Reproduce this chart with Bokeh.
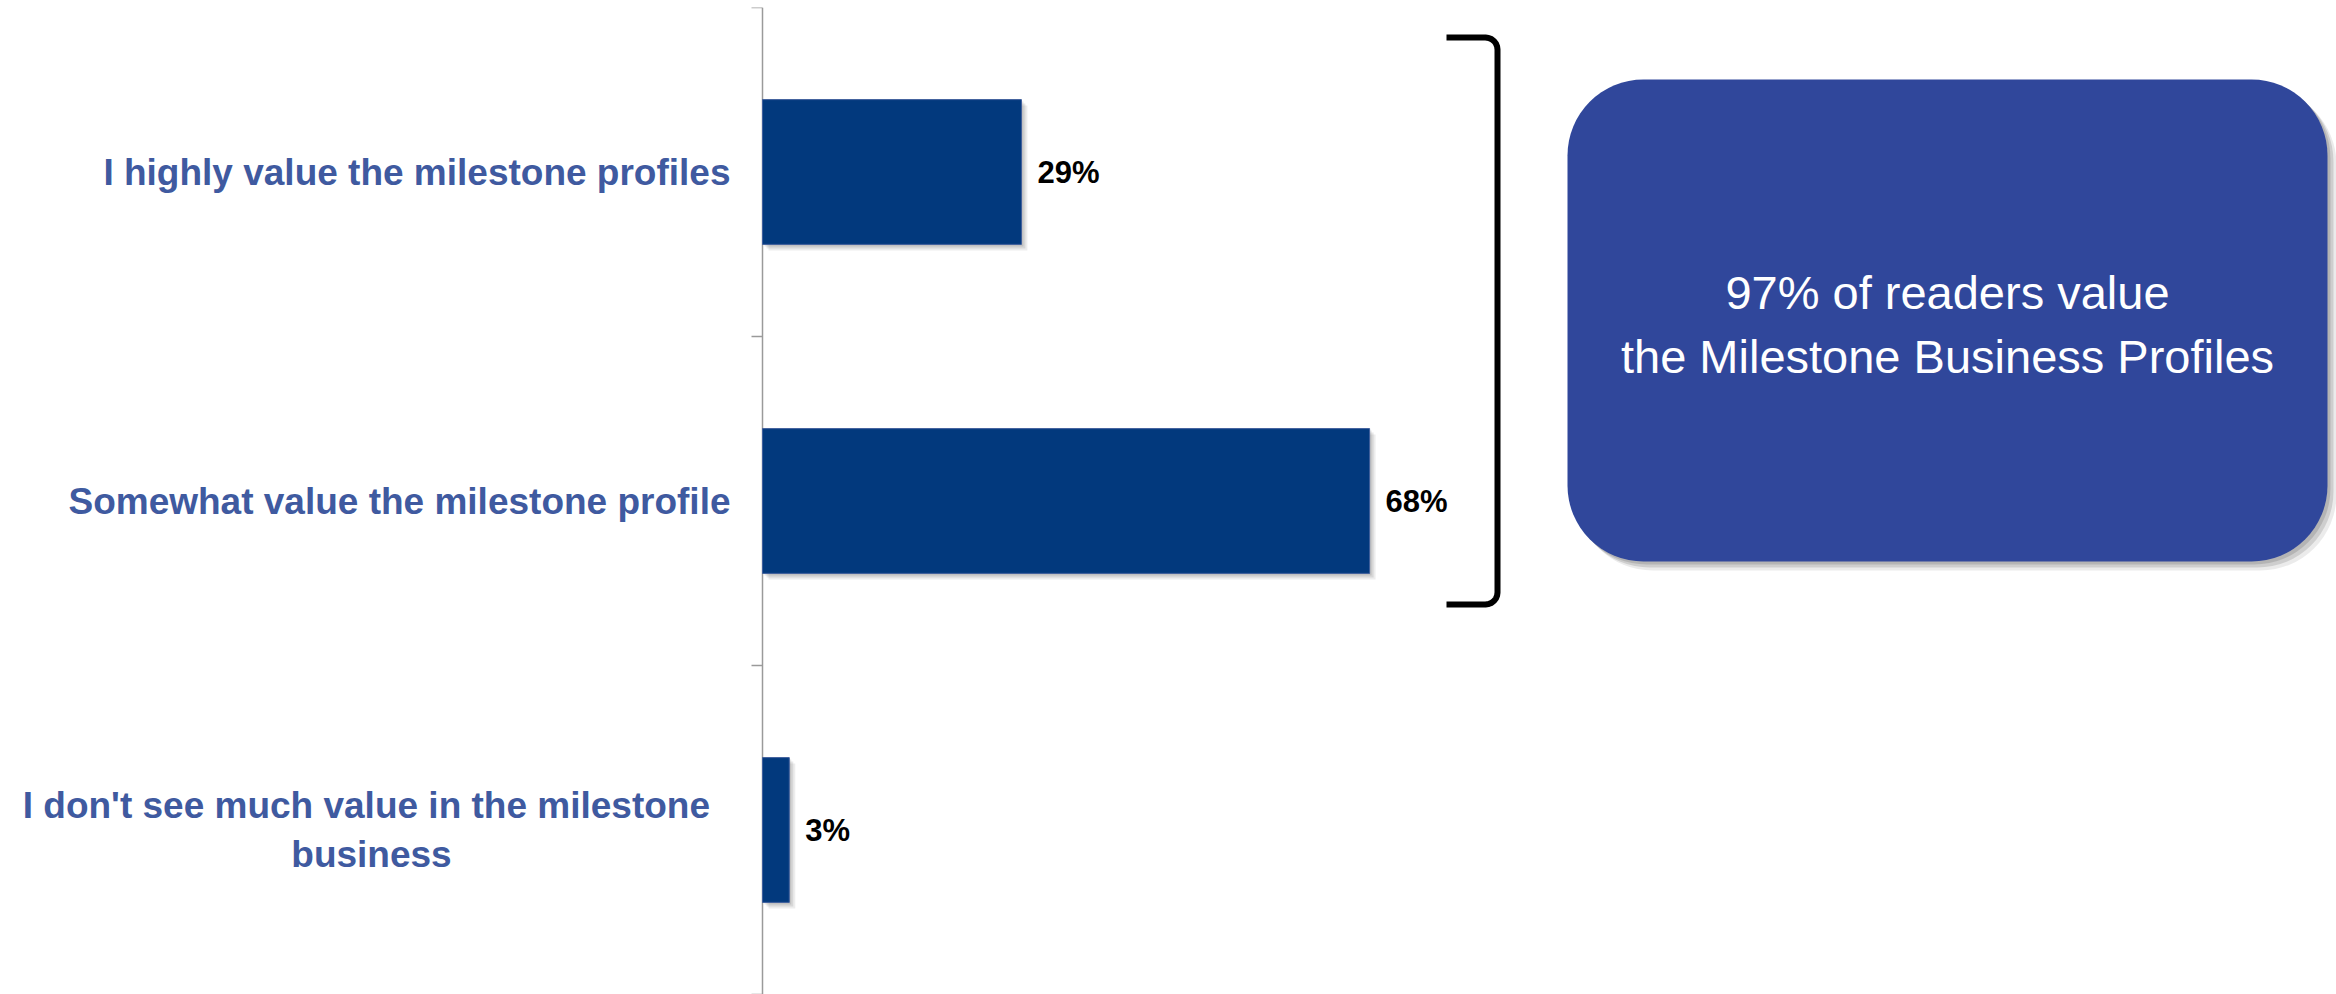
import math
from bokeh.plotting import figure
from bokeh.models import (Range1d, ColumnDataSource, BoxAnnotation, Label)
from bokeh.embed import file_html
from bokeh.resources import INLINE
from bokeh.core.properties import value, field

# ---------------- data ----------------
categories = [
    "I highly value the milestone profiles",
    "Somewhat value the milestone profile",
    "I don't  see much value in the milestone\nbusiness",
]
values = [29, 68, 3]
value_labels = ["29%", "68%", "3%"]
callout_text = "97% of readers value\nthe Milestone Business Profiles"

# ---------------- layout constants (pixels) ----------------
W, H = 2336, 994
LEFT = 762            # pixel position of the value axis
TOP = 7
X_MAX = 176.3
n = len(categories)
PX = (W - LEFT) / X_MAX          # pixels per x unit
PY = (H - TOP) / n               # pixels per y unit


def dx(px):
    return (px - LEFT) / PX


def dy(py):
    return n - (py - TOP) / PY


ypos = [n - 0.5 - i for i in range(n)]

p = figure(width=W, height=H, x_range=Range1d(-LEFT / PX, X_MAX), y_range=Range1d(0, n),
           output_backend="svg", toolbar_location=None,
           x_axis_location=None, y_axis_location=None,
           min_border_left=0, min_border_right=0,
           min_border_top=TOP, min_border_bottom=0)
p.outline_line_color = None
p.grid.visible = False
p.background_fill_color = "white"
p.border_fill_color = "white"

# category axis line with ticks at category boundaries
AX_COL = "#9A9A9A"
bounds = list(range(n + 1))
p.segment(x0=[0], y0=[0], x1=[0], y1=[n], line_color=AX_COL, line_width=1.5)
p.segment(x0=[-11 / PX] * len(bounds), y0=bounds, x1=[0] * len(bounds), y1=bounds,
          line_color=AX_COL, line_width=1.5)

BAR_H = 0.44
# soft shadows
for d, a in [(2, 0.10), (4, 0.09), (6, 0.07)]:
    p.hbar(y=[y - d / PY for y in ypos], left=d / PX,
           right=[v + d / PX for v in values], height=BAR_H,
           fill_color="black", fill_alpha=a, line_color=None)

p.hbar(y=ypos, left=0, right=values, height=BAR_H,
       fill_color="#02397D", line_color="#3E5E9C", line_width=1)

# category labels
multi = ["\n" in c for c in categories]
cat_src = ColumnDataSource(dict(
    x=[0] * n, y=ypos, text=categories,
    align=["center" if m else "right" for m in multi],
    xoff=[-391 if m else -32 for m in multi],
))
p.text(x="x", y="y", text="text", source=cat_src,
       x_offset=field("xoff"), text_align=field("align"),
       text_baseline="middle",
       text_font=value("Liberation Sans"), text_font_style="bold",
       text_font_size="37px", text_color="#3F5AA0",
       text_line_height=1.2)

# value labels
val_src = ColumnDataSource(dict(x=values, y=ypos, text=value_labels))
p.text(x="x", y="y", text="text", source=val_src,
       x_offset=16, text_align="left", text_baseline="middle",
       text_font=value("Liberation Sans"), text_font_style="bold",
       text_font_size="31px", text_color="black")

# bracket grouping first two categories
bx_l, bx_r, by_t, by_b, r = 1446, 1497, 37, 604, 12
pts = [(bx_l, by_t), (bx_r - r, by_t)]
for k in range(1, 7):
    t = k / 6 * math.pi / 2
    pts.append((bx_r - r + r * math.sin(t), by_t + r - r * math.cos(t)))
pts.append((bx_r, by_b - r))
for k in range(1, 7):
    t = k / 6 * math.pi / 2
    pts.append((bx_r - r + r * math.cos(t), by_b - r + r * math.sin(t)))
pts.append((bx_l, by_b))
p.line([dx(a) for a, b in pts], [dy(b) for a, b in pts],
       line_color="black", line_width=6, line_join="round", line_cap="butt")

# callout box with shadow
bl, br, bt, bb = 1567, 2327, 79, 561
for off, a in [(3, 0.12), (6, 0.12), (9, 0.08)]:
    p.add_layout(BoxAnnotation(left=dx(bl + off), right=dx(br + off),
                               top=dy(bt + off), bottom=dy(bb + off),
                               fill_color="black", fill_alpha=a, line_color=None,
                               border_radius=76))
p.add_layout(BoxAnnotation(left=dx(bl), right=dx(br), top=dy(bt), bottom=dy(bb),
                           fill_color="#30479B", fill_alpha=1.0, line_color=None,
                           border_radius=76))
p.add_layout(Label(x=dx((bl + br) / 2), y=dy((bt + bb) / 2 + 4), text=callout_text,
                   text_align="center", text_baseline="middle",
                   text_font="Liberation Sans", text_font_size="47px",
                   text_color="white", text_line_height=1.2))

open("out.html", "w").write(file_html(p, INLINE))
